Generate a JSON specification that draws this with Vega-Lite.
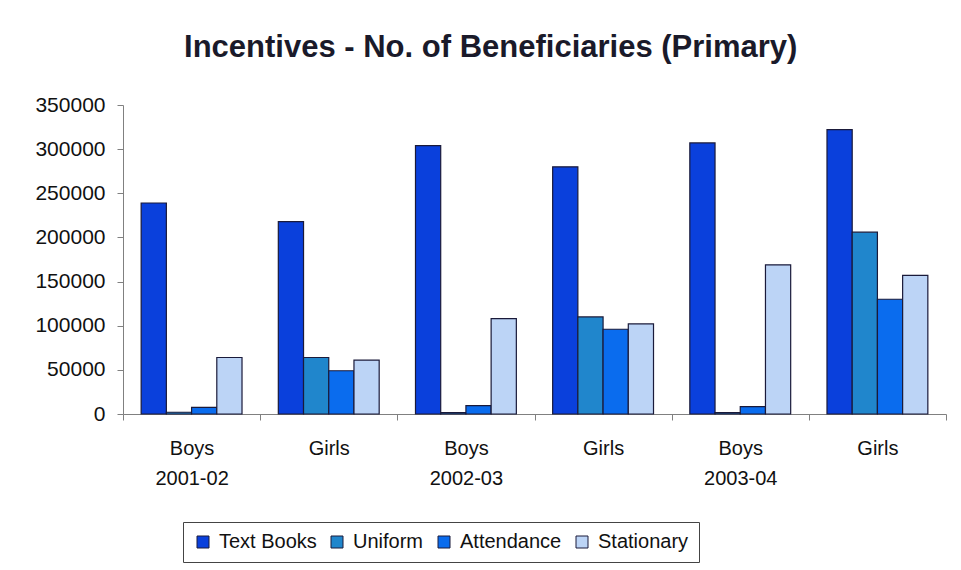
{
  "$schema": "https://vega.github.io/schema/vega-lite/v6.json",
  "width": 823,
  "height": 309,
  "padding": {"left": 34, "top": 32, "right": 10, "bottom": 5},
  "background": "white",
  "title": {"text": "Incentives - No. of Beneficiaries (Primary)", "font": "Liberation Sans", "fontSize": 31, "fontWeight": "bold", "color": "#1a1a2a", "anchor": "middle", "frame": "bounds", "offset": 30},
  "data": {"values": [
    {"group": "Boys|2001-02", "incentive": "Text Books", "value": 239000},
    {"group": "Boys|2001-02", "incentive": "Uniform", "value": 2000},
    {"group": "Boys|2001-02", "incentive": "Attendance", "value": 7500},
    {"group": "Boys|2001-02", "incentive": "Stationary", "value": 64000},
    {"group": "Girls|2001-02", "incentive": "Text Books", "value": 218000},
    {"group": "Girls|2001-02", "incentive": "Uniform", "value": 64000},
    {"group": "Girls|2001-02", "incentive": "Attendance", "value": 49000},
    {"group": "Girls|2001-02", "incentive": "Stationary", "value": 61000},
    {"group": "Boys|2002-03", "incentive": "Text Books", "value": 304000},
    {"group": "Boys|2002-03", "incentive": "Uniform", "value": 1500},
    {"group": "Boys|2002-03", "incentive": "Attendance", "value": 9400},
    {"group": "Boys|2002-03", "incentive": "Stationary", "value": 108000},
    {"group": "Girls|2002-03", "incentive": "Text Books", "value": 280000},
    {"group": "Girls|2002-03", "incentive": "Uniform", "value": 110000},
    {"group": "Girls|2002-03", "incentive": "Attendance", "value": 96000},
    {"group": "Girls|2002-03", "incentive": "Stationary", "value": 102000},
    {"group": "Boys|2003-04", "incentive": "Text Books", "value": 307000},
    {"group": "Boys|2003-04", "incentive": "Uniform", "value": 1500},
    {"group": "Boys|2003-04", "incentive": "Attendance", "value": 8300},
    {"group": "Boys|2003-04", "incentive": "Stationary", "value": 169000},
    {"group": "Girls|2003-04", "incentive": "Text Books", "value": 322000},
    {"group": "Girls|2003-04", "incentive": "Uniform", "value": 206000},
    {"group": "Girls|2003-04", "incentive": "Attendance", "value": 130000},
    {"group": "Girls|2003-04", "incentive": "Stationary", "value": 157000}
  ]},
  "mark": {"type": "bar", "stroke": "#1a1a3a", "strokeWidth": 1.2},
  "encoding": {
    "x": {
      "field": "group", "type": "nominal", "sort": null,
      "scale": {"paddingInner": 0, "paddingOuter": 0},
      "axis": {"title": null, "labelAngle": 0, "tickBand": "extent", "labelExpr": "indexof(datum.label, 'Boys') == 0 ? split(datum.label, '|') : split(datum.label, '|')[0]", "labelFontSize": 20, "labelLineHeight": 30, "labelPadding": 18, "labelColor": "#111111", "tickSize": 6, "tickColor": "#808080", "domainColor": "#808080", "labelBaseline": "top"}
    },
    "xOffset": {"field": "incentive", "type": "nominal", "sort": ["Text Books", "Uniform", "Attendance", "Stationary"], "scale": {"paddingOuter": 0.72, "paddingInner": 0}},
    "y": {
      "field": "value", "type": "quantitative",
      "scale": {"domain": [0, 350000], "nice": false},
      "axis": {"title": null, "values": [0, 50000, 100000, 150000, 200000, 250000, 300000, 350000], "format": "d", "grid": false, "labelFontSize": 21, "labelPadding": 12, "labelColor": "#111111", "tickSize": 6, "tickColor": "#808080", "domainColor": "#808080"}
    },
    "color": {
      "field": "incentive", "type": "nominal",
      "scale": {"domain": ["Text Books", "Uniform", "Attendance", "Stationary"], "range": ["#0a40dc", "#2086cc", "#0a6cee", "#bcd4f6"]},
      "legend": {"title": null, "orient": "none", "legendX": 60, "legendY": 417, "direction": "horizontal", "strokeColor": "#444444", "fillColor": "white", "padding": 10, "labelFontSize": 20, "labelColor": "#111111", "symbolType": "square", "symbolSize": 144, "symbolStrokeColor": "#1a1a3a", "symbolStrokeWidth": 1, "columnPadding": 10, "labelOffset": 6, "labelLimit": 300}
    }
  },
  "config": {"view": {"stroke": null}, "font": "Liberation Sans"}
}
